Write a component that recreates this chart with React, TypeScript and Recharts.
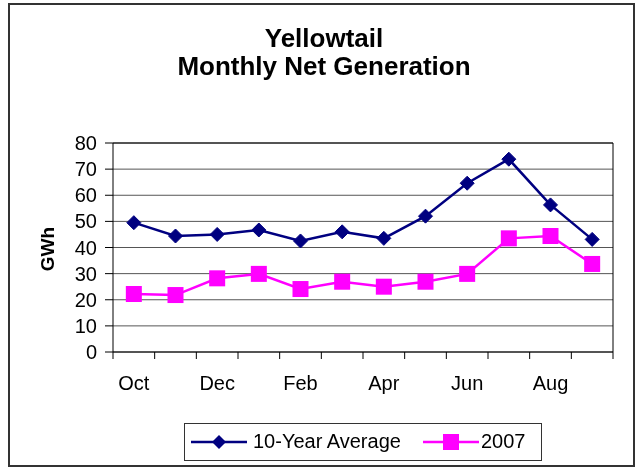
import React from "react";
import { LineChart, Line, XAxis, YAxis, CartesianGrid, ReferenceLine } from "recharts";

const months = ["Oct", "Nov", "Dec", "Jan", "Feb", "Mar", "Apr", "May", "Jun", "Jul", "Aug", "Sep"];
const avgValues = [49.5, 44.4, 45.0, 46.7, 42.5, 46.0, 43.5, 52.0, 64.6, 73.8, 56.3, 43.1];
const y2007Values = [22.2, 21.8, 28.2, 29.9, 24.1, 26.9, 25.0, 26.9, 29.9, 43.5, 44.4, 33.7];
const yTicks = [0, 10, 20, 30, 40, 50, 60, 70, 80];
const shownLabels = ["Oct", "Dec", "Feb", "Apr", "Jun", "Aug"];
const seriesNames = ["10-Year Average", "2007"];

const data = months.map((m, i) => ({ x: i + 0.5, month: m, avg: avgValues[i], y2007: y2007Values[i] }));
const xTicks: number[] = [];
for (let i = 0; i <= months.length; i++) {
  xTicks.push(i);
  if (i < months.length) xTicks.push(i + 0.5);
}

const NAVY = "#000080";
const MAGENTA = "#FF00FF";
const FONT = "'Liberation Sans', Arial, sans-serif";

const Diamond = (props: any) => {
  const { cx, cy } = props;
  if (cx == null || cy == null) return null;
  const r = 7;
  return <polygon points={`${cx},${cy - r} ${cx + r},${cy} ${cx},${cy + r} ${cx - r},${cy}`} fill={NAVY} stroke={NAVY} />;
};

const Square = (props: any) => {
  const { cx, cy } = props;
  if (cx == null || cy == null) return null;
  const s = 8;
  return <rect x={cx - s} y={cy - s} width={2 * s} height={2 * s} fill={MAGENTA} />;
};

const XTick = (props: any) => {
  const { x, y, payload } = props;
  const v = payload.value;
  if (Number.isInteger(v)) {
    return <line x1={x} x2={x} y1={y} y2={y + 7} stroke="#000" strokeWidth={1} />;
  }
  const m = months[Math.floor(v)];
  if (!shownLabels.includes(m)) return <g />;
  return (
    <text x={x} y={y + 38} textAnchor="middle" fontSize={20} fontFamily={FONT} fill="#000">
      {m}
    </text>
  );
};

export default function App() {
  return (
    <div style={{ position: "fixed", left: 0, top: 0, width: 637, height: 470, background: "#fff", fontFamily: FONT }}>
      <svg width={637} height={470} style={{ position: "absolute", left: 0, top: 0 }}>
        <rect x={9} y={4} width={625} height={462} fill="none" stroke="#333" strokeWidth={2} />
      </svg>
      <div style={{ position: "absolute", left: 10, width: 628, top: 24, textAlign: "center", fontWeight: "bold", fontSize: 26, lineHeight: "28px" }}>
        Yellowtail
      </div>
      <div style={{ position: "absolute", left: 10, width: 628, top: 52, textAlign: "center", fontWeight: "bold", fontSize: 26, lineHeight: "28px" }}>
        Monthly Net Generation
      </div>
      <div style={{ position: "absolute", left: 0, top: 0 }}>
        <LineChart width={637} height={470} data={data} margin={{ top: 143, right: 24, bottom: 78, left: 53 }}>
          <CartesianGrid horizontal vertical={false} stroke="#555" strokeWidth={1} />
          <XAxis
            dataKey="x"
            type="number"
            domain={[0, 12]}
            ticks={xTicks}
            interval={0}
            tickLine={false}
            tickSize={0}
            tickMargin={0}
            axisLine={{ stroke: "#000", strokeWidth: 1 }}
            tick={<XTick />}
            height={40}
          />
          <YAxis
            domain={[0, 80]}
            ticks={yTicks}
            interval={0}
            width={60}
            tickSize={8}
            tickMargin={8}
            axisLine={{ stroke: "#000", strokeWidth: 1 }}
            tickLine={{ stroke: "#000" }}
            tick={{ fontSize: 20, fill: "#000", fontFamily: FONT }}
          />
          <ReferenceLine x={12} stroke="#000" strokeWidth={1} />
          <ReferenceLine y={80} stroke="#000" strokeWidth={1} />
          <Line
            dataKey="avg"
            name={seriesNames[0]}
            stroke={NAVY}
            strokeWidth={2.5}
            dot={<Diamond />}
            isAnimationActive={false}
          />
          <Line
            dataKey="y2007"
            name={seriesNames[1]}
            stroke={MAGENTA}
            strokeWidth={2.5}
            dot={<Square />}
            isAnimationActive={false}
          />
        </LineChart>
      </div>
      <div
        style={{
          position: "absolute",
          left: 48,
          top: 249,
          transform: "translate(-50%, -50%) rotate(-90deg)",
          fontWeight: "bold",
          fontSize: 19,
          whiteSpace: "nowrap",
        }}
      >
        GWh
      </div>
      <div
        style={{
          position: "absolute",
          left: 184,
          top: 423,
          width: 356,
          height: 36,
          border: "1px solid #333",
          fontSize: 20,
        }}
      >
        <svg width={58} height={20} style={{ position: "absolute", left: 6, top: 8 }}>
          <line x1={0} x2={56} y1={10} y2={10} stroke={NAVY} strokeWidth={2.5} />
          <polygon points="28,3 35,10 28,17 21,10" fill={NAVY} />
        </svg>
        <div style={{ position: "absolute", left: 68, top: 6, whiteSpace: "nowrap" }}>{seriesNames[0]}</div>
        <svg width={58} height={20} style={{ position: "absolute", left: 238, top: 8 }}>
          <line x1={0} x2={56} y1={10} y2={10} stroke={MAGENTA} strokeWidth={2.5} />
          <rect x={20} y={2} width={16} height={16} fill={MAGENTA} />
        </svg>
        <div style={{ position: "absolute", left: 296, top: 6, whiteSpace: "nowrap" }}>{seriesNames[1]}</div>
      </div>
    </div>
  );
}
